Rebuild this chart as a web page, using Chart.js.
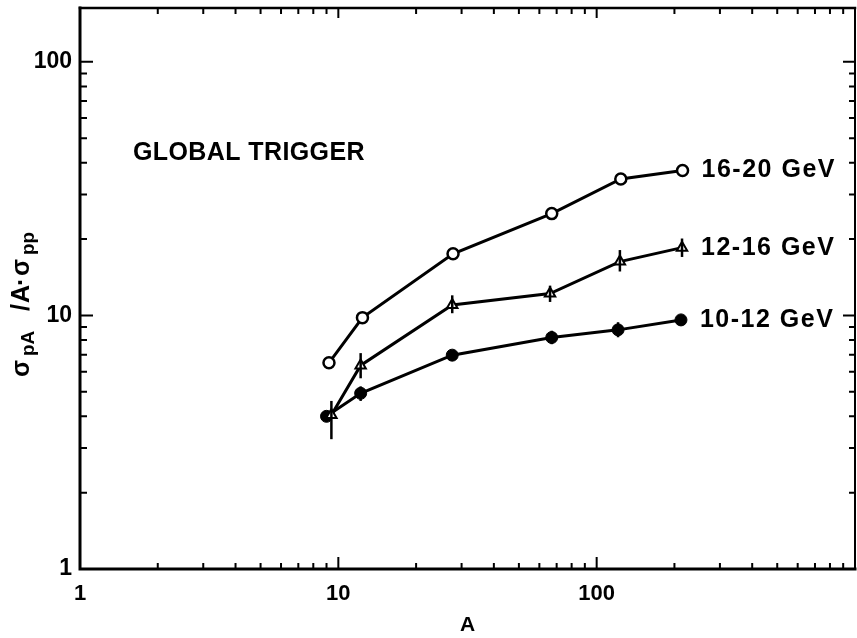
<!DOCTYPE html>
<html>
<head>
<meta charset="utf-8">
<script src="https://cdn.jsdelivr.net/npm/chart.js@4.4.0/dist/chart.umd.min.js"></script>
<style>
html,body{margin:0;padding:0;background:#fff;}
#wrap{width:857px;height:638px;position:relative;}
</style>
</head>
<body>
<div id="wrap"><canvas id="c" width="857" height="638"></canvas></div>
<script>
// ---- data ----
const xTickLabels = [1, 10, 100];
const yTickLabels = [1, 10, 100];

const seriesNames = ['16-20 GeV', '12-16 GeV', '10-12 GeV'];

const a1620 = [9.2, 12.4, 27.8, 67, 124, 215];
const v1620 = [6.5, 9.8, 17.5, 25.2, 34.5, 37.3];

const a1216 = [9.4, 12.2, 27.6, 66, 123, 214];
const v1216 = [4.05, 6.35, 11.0, 12.2, 16.3, 18.5];
const lo1216 = [3.25, 5.65, 10.2, 11.3, 14.9, 17.0];
const hi1216 = [4.6, 7.1, 12.0, 13.1, 18.1, 20.1];

const a1012 = [9.0, 12.2, 27.6, 67, 121, 212];
const v1012 = [4.0, 4.93, 6.97, 8.18, 8.77, 9.6];
const lo1012 = [3.8, 4.6, 6.7, 7.7, 8.2, 9.3];
const hi1012 = [4.2, 5.25, 7.25, 8.7, 9.4, 9.9];

const annotationText = 'GLOBAL TRIGGER';
const xTitle = 'A';

const FONT = '"Liberation Sans", Arial, sans-serif';

function pts(xs, ys) { return xs.map((x, i) => ({x: x, y: ys[i]})); }
function isLabel(v, list) { return list.some(t => Math.abs(v - t) < 1e-6 * t); }

const frameTicks = {
  id: 'frameTicks',
  afterDraw(chart) {
    const {ctx, chartArea: ca, scales} = chart;
    const x = scales.x, y = scales.y;
    ctx.save();
    ctx.strokeStyle = '#000';
    ctx.fillStyle = '#000';
    ctx.lineCap = 'square';
    // frame
    ctx.lineWidth = 3;
    ctx.beginPath();
    ctx.moveTo(ca.left, ca.top);
    ctx.lineTo(ca.left, ca.bottom);
    ctx.lineTo(ca.right, ca.bottom);
    ctx.stroke();
    ctx.lineWidth = 2.5;
    ctx.beginPath();
    ctx.moveTo(ca.left, ca.top);
    ctx.lineTo(ca.right, ca.top);
    ctx.stroke();
    ctx.lineWidth = 2;
    ctx.beginPath();
    ctx.moveTo(ca.right, ca.top);
    ctx.lineTo(ca.right, ca.bottom);
    ctx.stroke();
    // ticks
    ctx.lineCap = 'butt';
    ctx.lineWidth = 2;
    const decades = [1, 10, 100, 1000];
    decades.forEach(d => {
      for (let m = 1; m <= 9; m++) {
        const v = m * d;
        const major = (m === 1);
        if (v >= 1 && v <= 1000) {
          const px = x.getPixelForValue(v);
          const L = major ? 12 : 6;
          ctx.beginPath();
          ctx.moveTo(px, ca.bottom); ctx.lineTo(px, ca.bottom - L);
          ctx.moveTo(px, ca.top); ctx.lineTo(px, ca.top + (major ? 10 : 6));
          ctx.stroke();
        }
        if (v >= 1 && v <= y.max) {
          const py = y.getPixelForValue(v);
          const L = major ? 13 : 7;
          ctx.beginPath();
          ctx.moveTo(ca.left, py); ctx.lineTo(ca.left + L, py);
          ctx.moveTo(ca.right, py); ctx.lineTo(ca.right - (major ? 12 : 6), py);
          ctx.stroke();
        }
      }
    });

    // error bars
    ctx.lineWidth = 2.5;
    const drawErr = (xs, lo, hi) => {
      xs.forEach((a, i) => {
        const px = x.getPixelForValue(a);
        ctx.beginPath();
        ctx.moveTo(px, y.getPixelForValue(lo[i]));
        ctx.lineTo(px, y.getPixelForValue(hi[i]));
        ctx.stroke();
      });
    };
    drawErr(a1216, lo1216, hi1216);
    drawErr(a1012, lo1012, hi1012);

    // series labels next to the last point
    ctx.font = 'bold 25px ' + FONT;
    ctx.textBaseline = 'middle';
    ctx.textAlign = 'left';
    ctx.letterSpacing = '1.5px';
    const lastPts = [[a1620, v1620], [a1216, v1216], [a1012, v1012]];
    lastPts.forEach((s, i) => {
      const n = s[0].length - 1;
      const px = x.getPixelForValue(s[0][n]);
      const py = y.getPixelForValue(s[1][n]);
      ctx.fillText(seriesNames[i], px + 19, py);
    });
    ctx.letterSpacing = '0px';

    // annotation
    ctx.font = 'bold 25px ' + FONT;
    ctx.letterSpacing = '0.4px';
    ctx.fillText(annotationText, ca.left + 53, ca.top + 145);
    ctx.letterSpacing = '0px';

    // y axis title (rotated, with subscripts)
    ctx.save();
    ctx.translate(29, 377);
    ctx.rotate(-Math.PI / 2);
    ctx.textBaseline = 'alphabetic';
    const mainF = 'bold 25px ' + FONT;
    const subF = 'bold 19px ' + FONT;
    const pieces = [
      ['\u03C3', 0, mainF, 0],
      ['pA', 21, subF, 5],
      ['/', 66, mainF, 0],
      ['A', 74, mainF, 0],
      ['\u00B7', 91, mainF, 0],
      ['\u03C3', 101, mainF, 0],
      ['pp', 122, subF, 5]
    ];
    pieces.forEach(p => {
      ctx.font = p[2];
      ctx.fillText(p[0], p[1], p[3]);
    });
    ctx.restore();
    ctx.restore();
  }
};

const commonLine = {borderColor: '#000', borderWidth: 3, tension: 0, showLine: true, pointHoverRadius: 0};

function noEdgePadding(s) {
  s.paddingTop = 0; s.paddingBottom = 0; s.paddingLeft = 0; s.paddingRight = 0;
}

new Chart(document.getElementById('c'), {
  type: 'line',
  data: {
    datasets: [
      Object.assign({}, commonLine, {
        label: seriesNames[0], data: pts(a1620, v1620),
        pointStyle: 'circle', pointRadius: 5.5, pointBorderWidth: 2.5,
        pointBackgroundColor: '#fff', pointBorderColor: '#000'
      }),
      Object.assign({}, commonLine, {
        label: seriesNames[1], data: pts(a1216, v1216),
        pointStyle: 'triangle', pointRadius: 6, pointBorderWidth: 2,
        pointBackgroundColor: '#fff', pointBorderColor: '#000'
      }),
      Object.assign({}, commonLine, {
        label: seriesNames[2], data: pts(a1012, v1012),
        pointStyle: 'circle', pointRadius: 6, pointBorderWidth: 1,
        pointBackgroundColor: '#000', pointBorderColor: '#000'
      })
    ]
  },
  options: {
    responsive: false,
    animation: false,
    events: [],
    layout: {autoPadding: false, padding: {top: 8, right: 2, left: 0, bottom: 0}},
    plugins: {legend: {display: false}, tooltip: {enabled: false}},
    scales: {
      x: {
        type: 'logarithmic', position: 'bottom', min: 1, max: 1000,
        grid: {display: false, drawTicks: false}, border: {display: false},
        ticks: {
          autoSkip: false, maxRotation: 0, color: '#000', padding: 12,
          font: {family: FONT, size: 22, weight: 'bold'},
          callback: (v) => isLabel(Number(v), xTickLabels) ? String(Number(v)) : ''
        },
        title: {display: true, text: xTitle, color: '#000', padding: {top: 2, bottom: 0},
          font: {family: FONT, size: 21, weight: 'bold'}},
        afterFit: (s) => { s.height = 69; noEdgePadding(s); }
      },
      y: {
        type: 'logarithmic', position: 'left', min: 1, max: 163,
        grid: {display: false, drawTicks: false}, border: {display: false},
        ticks: {
          autoSkip: false, color: '#000', padding: 8,
          font: {family: FONT, size: 23, weight: 'bold'},
          callback: (v) => isLabel(Number(v), yTickLabels) ? String(Number(v)) : ''
        },
        afterFit: (s) => { s.width = 80; noEdgePadding(s); }
      }
    }
  },
  plugins: [frameTicks]
});
</script>
</body>
</html>
